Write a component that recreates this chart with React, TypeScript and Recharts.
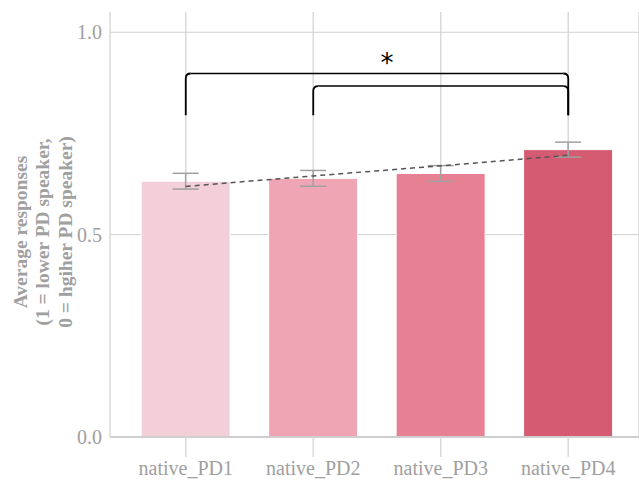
import React from "react";
import {
  ComposedChart, Bar, Cell, Line, XAxis, YAxis, CartesianGrid, ErrorBar, ReferenceLine,
} from "recharts";

// values
const categories = ["native_PD1", "native_PD2", "native_PD3", "native_PD4"];
const means = [0.632, 0.639, 0.651, 0.71];
const stdErr = [0.0195, 0.0195, 0.0195, 0.0185];
const trend = [0.619, 0.645, 0.67, 0.696];
const yTicks = [0, 0.5, 1];
const yLabelLines = ["Average responses", "(1 = lower PD speaker,", "0 = hgiher PD speaker)"];

const bracketFrom = ["native_PD1", "native_PD2"];
const bracketTo = ["native_PD4", "native_PD4"];
const bracketTop = [0.898, 0.867];
const bracketFoot = [0.795, 0.795];

const barColors = ["#f2cfd9", "#f0a5b4", "#e78093", "#d55b72"];
const GREY = "#a0a0a0";
const SERIF = "'Liberation Serif', 'Times New Roman', serif";
const R = 5; // bracket corner radius

const data = categories.map((c, i) => ({
  name: c,
  mean: means[i],
  err: stdErr[i],
  trend: trend[i],
}));

const YLabel = () => (
  <g>
    {yLabelLines.map((t, i) => (
      <text
        key={t}
        x={0}
        y={0}
        transform={`translate(${20 + i * 22.5}, 232) rotate(-90)`}
        textAnchor="middle"
        dominantBaseline="central"
        fontFamily={SERIF}
        fontWeight="bold"
        fontSize={19.5}
        fill={GREY}
      >
        {t}
      </text>
    ))}
  </g>
);

// leg drawn from foot (x1,y1) up to top (x2,y2), curving toward dir
const legShape = (dir: number) => (p: any) => (
  <path
    d={`M${p.x1},${p.y1} L${p.x2},${p.y2 + R} Q${p.x2},${p.y2} ${p.x2 + dir * R},${p.y2}`}
    fill="none"
    stroke="#000"
    strokeWidth={1.8}
  />
);

const topShape = (p: any) => (
  <path d={`M${p.x1 + R},${p.y1} L${p.x2 - R},${p.y2}`} fill="none" stroke="#000" strokeWidth={1.5} />
);

export default function App() {
  return (
    <div style={{ position: "absolute", left: 0, top: 0, width: 639, height: 483, background: "#fff" }}>
      <ComposedChart
        width={639}
        height={483}
        data={data}
        margin={{ top: 12, right: 0, bottom: 0, left: 0 }}
        barCategoryGap="15%"
      >
        <CartesianGrid stroke="#dadada" strokeWidth={1.5} horizontal={false} />
        <CartesianGrid stroke="#d0d0d0" strokeWidth={1} vertical={false} horizontalValues={yTicks} />
        <XAxis
          dataKey="name"
          padding={{ left: 12, right: 7 }}
          height={46}
          tickSize={20}
          tickMargin={4}
          axisLine={{ stroke: "#cfcfcf", strokeWidth: 2 }}
          tickLine={{ stroke: "#dadada", strokeWidth: 1.5 }}
          tick={{ fill: GREY, fontFamily: SERIF, fontSize: 20 }}
        />
        <YAxis
          width={110}
          domain={[0, 1.05]}
          ticks={yTicks}
          tickFormatter={(v: number) => v.toFixed(1)}
          axisLine={false}
          tickLine={false}
          tickSize={6}
          tickMargin={2}
          tick={{ fill: GREY, fontFamily: SERIF, fontSize: 20 }}
          label={<YLabel />}
        />
        <Bar dataKey="mean" stroke="#ffffff" strokeWidth={1} isAnimationActive={false}>
          {data.map((d, i) => (
            <Cell key={d.name} fill={barColors[i]} />
          ))}
          <ErrorBar dataKey="err" width={13} stroke={GREY} strokeWidth={1.5} />
        </Bar>
        <Line
          dataKey="trend"
          stroke="#555555"
          strokeWidth={1.5}
          strokeDasharray="5 4"
          dot={false}
          activeDot={false}
          isAnimationActive={false}
        />
        {bracketFrom.map((from, i) => (
          <React.Fragment key={`br${i}`}>
            <ReferenceLine
              segment={[{ x: from, y: bracketFoot[i] }, { x: from, y: bracketTop[i] }]}
              shape={legShape(1)}
            />
            <ReferenceLine
              segment={[{ x: from, y: bracketTop[i] }, { x: bracketTo[i], y: bracketTop[i] }]}
              shape={topShape}
              label={
                i === 0
                  ? { value: "*", position: "top", dx: 10, dy: 3, fontSize: 26, fill: "#000", fontFamily: "DejaVu Sans" }
                  : undefined
              }
            />
            <ReferenceLine
              segment={[{ x: bracketTo[i], y: bracketFoot[i] }, { x: bracketTo[i], y: bracketTop[i] }]}
              shape={legShape(-1)}
            />
          </React.Fragment>
        ))}
      </ComposedChart>
    </div>
  );
}
